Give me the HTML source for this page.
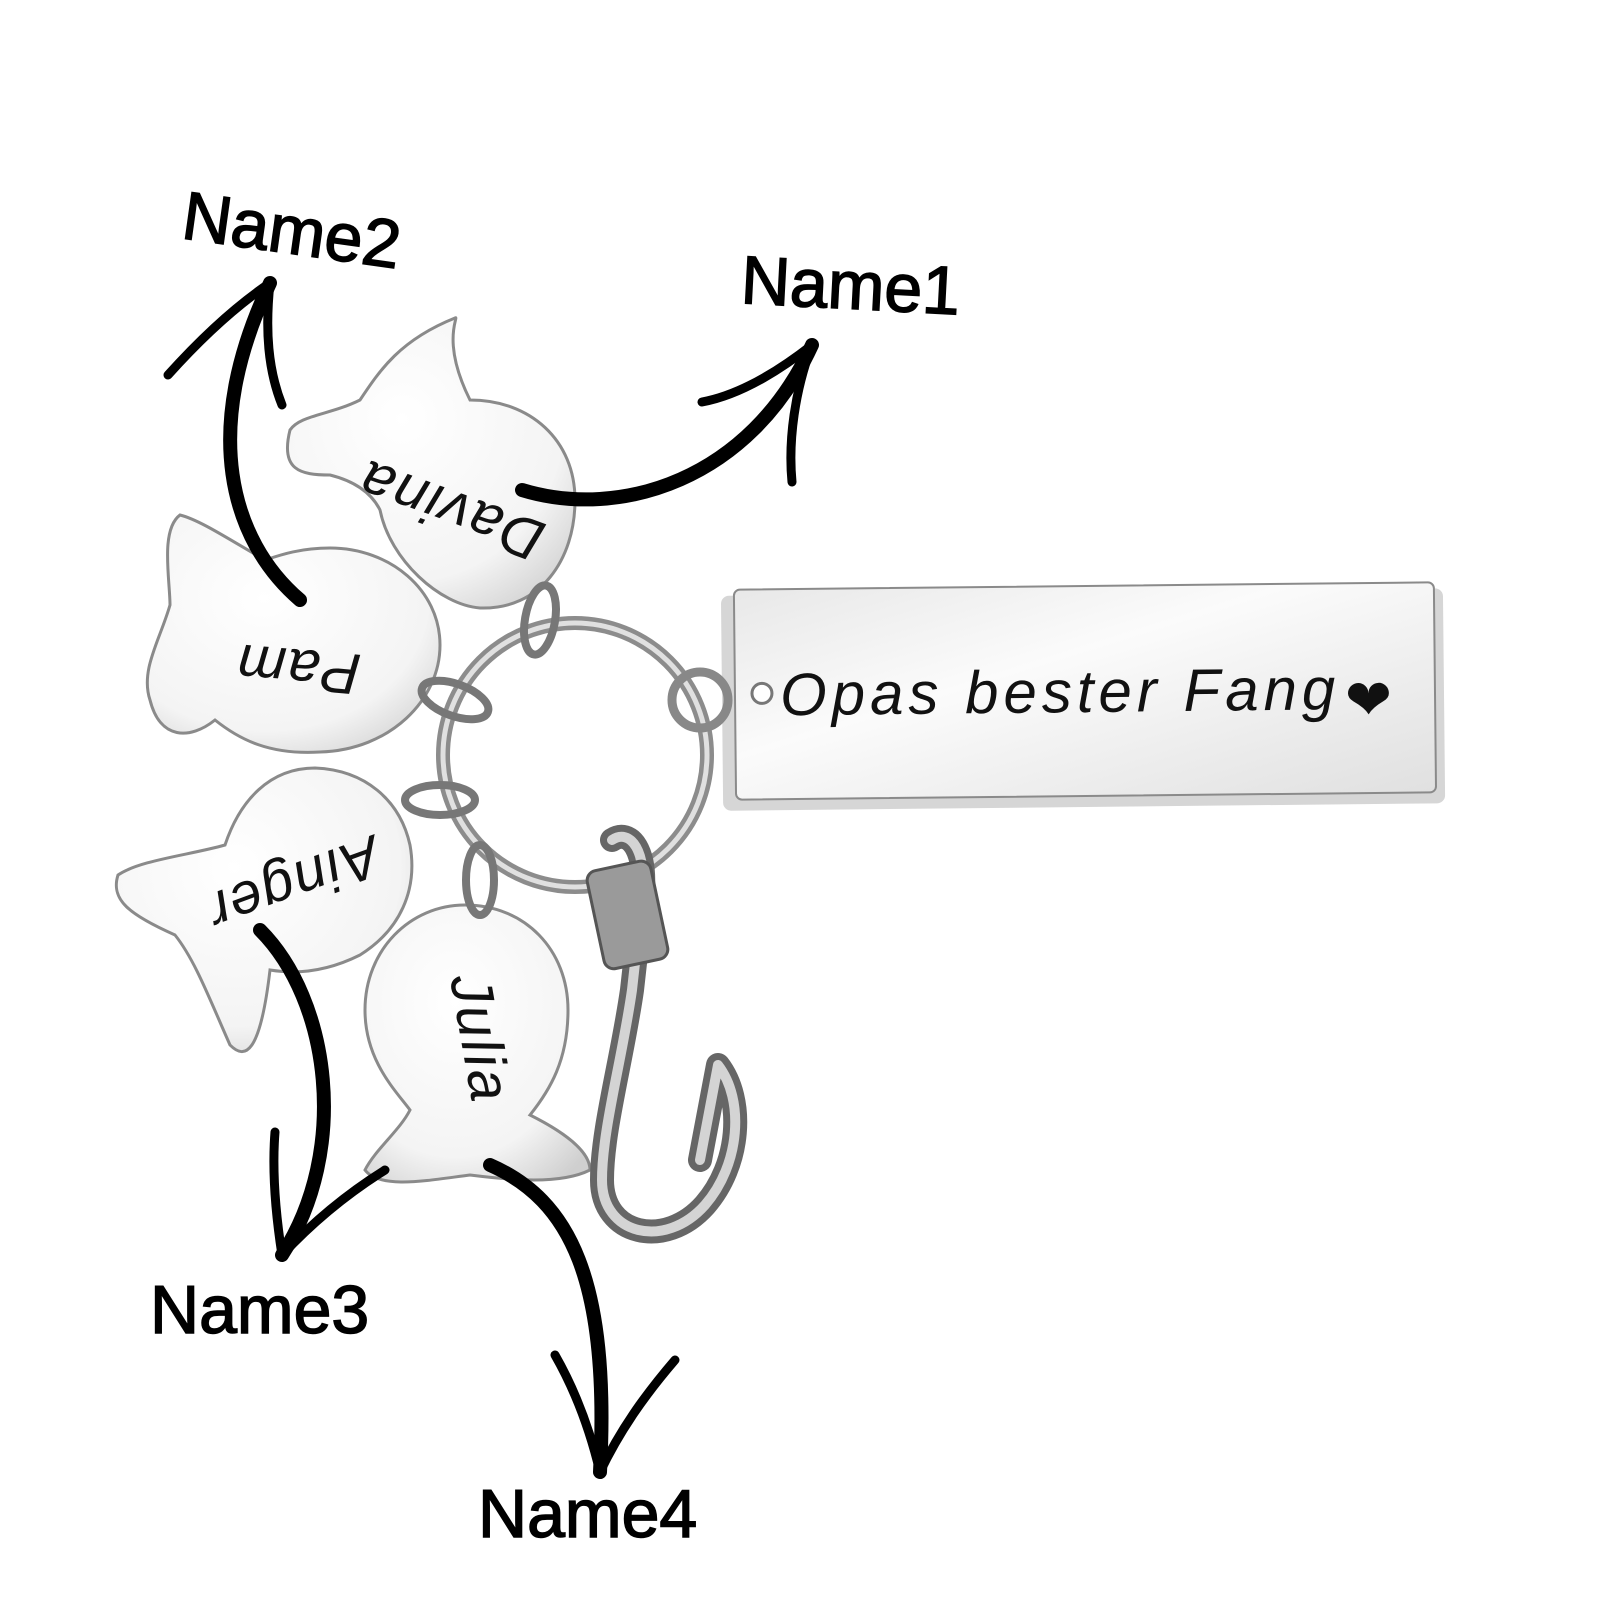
<!DOCTYPE html>
<html><head><meta charset="utf-8"><style>
html,body{margin:0;padding:0;background:#fff;width:1600px;height:1600px;overflow:hidden}
</style></head><body>
<svg width="1600" height="1600" viewBox="0 0 1600 1600" xmlns="http://www.w3.org/2000/svg">
<defs>
<radialGradient id="met" cx="40%" cy="35%" r="80%">
<stop offset="0" stop-color="#ffffff"/><stop offset="0.7" stop-color="#f4f4f4"/><stop offset="1" stop-color="#cfcfcf"/>
</radialGradient>
<linearGradient id="tag" x1="0" y1="0" x2="1" y2="1">
<stop offset="0" stop-color="#e8e8e8"/><stop offset="0.4" stop-color="#fbfbfb"/><stop offset="1" stop-color="#e0e0e0"/>
</linearGradient>
</defs>

<g transform="rotate(-0.6 1085 695)">
<rect x="722" y="592" width="722" height="215" rx="8" fill="#d6d6d6"/>
<rect x="735" y="586" width="700" height="210" rx="6" fill="url(#tag)" stroke="#8a8a8a" stroke-width="2"/>
<circle cx="762" cy="690" r="10" fill="#fff" stroke="#777" stroke-width="3"/>
<text x="780" y="712" font-family="Liberation Sans, sans-serif" font-style="italic" font-size="60" fill="#111" letter-spacing="5">Opas bester Fang</text>
<text x="1345" y="722" font-family="DejaVu Sans, sans-serif" font-size="56" fill="#111">❤</text>
</g>

<circle cx="575" cy="755" r="132" fill="none" stroke="#8c8c8c" stroke-width="14"/>
<circle cx="575" cy="755" r="132" fill="none" stroke="#e0e0e0" stroke-width="5"/>
<circle cx="700" cy="700" r="28" fill="none" stroke="#888" stroke-width="9"/>

<g fill="url(#met)" stroke="#8a8a8a" stroke-width="3">
<path d="M470,400 C440,340 460,315 455,318 C400,340 380,370 360,400 C330,415 300,415 290,430 C280,470 300,475 330,475 C350,480 370,490 380,510 C390,560 440,605 480,608 C540,610 575,560 575,500 C575,440 530,400 470,400Z"/>
<path d="M265,560 C230,540 200,520 180,515 C160,530 170,580 170,605 C160,640 140,670 150,700 C160,740 190,740 215,720 C240,740 270,755 320,752 C390,750 440,700 440,645 C440,590 390,548 330,548 C300,548 280,555 265,560Z"/>
<path d="M225,845 C190,855 140,860 118,875 C110,900 130,915 175,935 C195,960 210,1000 230,1045 C245,1060 260,1055 270,970 C300,975 330,970 360,955 C400,930 418,890 410,845 C400,800 365,770 315,768 C270,768 240,800 225,845Z"/>
<path d="M465,905 C410,905 365,950 365,1010 C365,1060 395,1090 410,1110 C400,1130 375,1150 365,1170 C380,1190 430,1180 470,1175 C510,1180 560,1185 590,1170 C590,1150 560,1130 530,1115 C550,1090 568,1060 568,1010 C568,950 525,905 465,905Z"/>
</g>
<g fill="none" stroke="#777" stroke-width="8">
<ellipse cx="540" cy="620" rx="15" ry="35" transform="rotate(10 540 620)"/>
<ellipse cx="455" cy="700" rx="35" ry="16" transform="rotate(20 455 700)"/>
<ellipse cx="440" cy="800" rx="35" ry="15"/>
<ellipse cx="480" cy="880" rx="14" ry="35"/>
</g>

<g fill="none" stroke-linecap="round" stroke-linejoin="round">
<path d="M612,840 C630,828 648,850 642,900 L632,990 C622,1060 602,1130 602,1180 C602,1235 665,1250 705,1205 C740,1165 745,1100 718,1065 L700,1160" stroke="#666" stroke-width="24"/>
<path d="M612,840 C630,828 648,850 642,900 L632,990 C622,1060 602,1130 602,1180 C602,1235 665,1250 705,1205 C740,1165 745,1100 718,1065 L700,1160" stroke="#d4d4d4" stroke-width="10"/>
<rect x="595" y="865" width="65" height="100" rx="10" transform="rotate(-12 627 915)" fill="#9a9a9a" stroke="#555" stroke-width="3"/>
</g>

<g font-family="Liberation Sans, sans-serif" font-style="italic" font-size="58" fill="#111" letter-spacing="2">
<text transform="translate(548,525) rotate(200)">Davina</text>
<text transform="translate(362,655) rotate(185)">Pam</text>
<text transform="translate(372,835) rotate(160)">Ainger</text>
<text transform="translate(450,978) rotate(80)">Julia</text>
</g>

<g fill="none" stroke="#000" stroke-width="14" stroke-linecap="round">
<path d="M300,600 C230,540 200,430 270,283"/>
<path d="M270,283 C230,310 195,345 168,375" stroke-width="9"/>
<path d="M270,283 C265,330 268,370 282,405" stroke-width="9"/>
<path d="M522,490 C620,520 750,480 812,345"/>
<path d="M812,345 C780,370 740,395 702,402" stroke-width="9"/>
<path d="M812,345 C795,390 788,440 792,482" stroke-width="9"/>
<path d="M260,930 C330,1000 350,1150 282,1255"/>
<path d="M282,1255 C275,1210 272,1170 275,1132" stroke-width="9"/>
<path d="M282,1255 C310,1225 345,1195 385,1170" stroke-width="9"/>
<path d="M490,1165 C570,1200 610,1280 600,1472"/>
<path d="M600,1472 C590,1430 575,1390 555,1355" stroke-width="9"/>
<path d="M600,1472 C620,1430 645,1395 675,1360" stroke-width="9"/>
</g>

<g font-family="Liberation Sans, sans-serif" font-size="68" fill="#000" stroke="#000" stroke-width="1.5">
<text transform="translate(180,238) rotate(8)">Name2</text>
<text transform="translate(740,303) rotate(3)">Name1</text>
<text x="150" y="1333">Name3</text>
<text x="478" y="1537">Name4</text>
</g>
</svg>
</body></html>
